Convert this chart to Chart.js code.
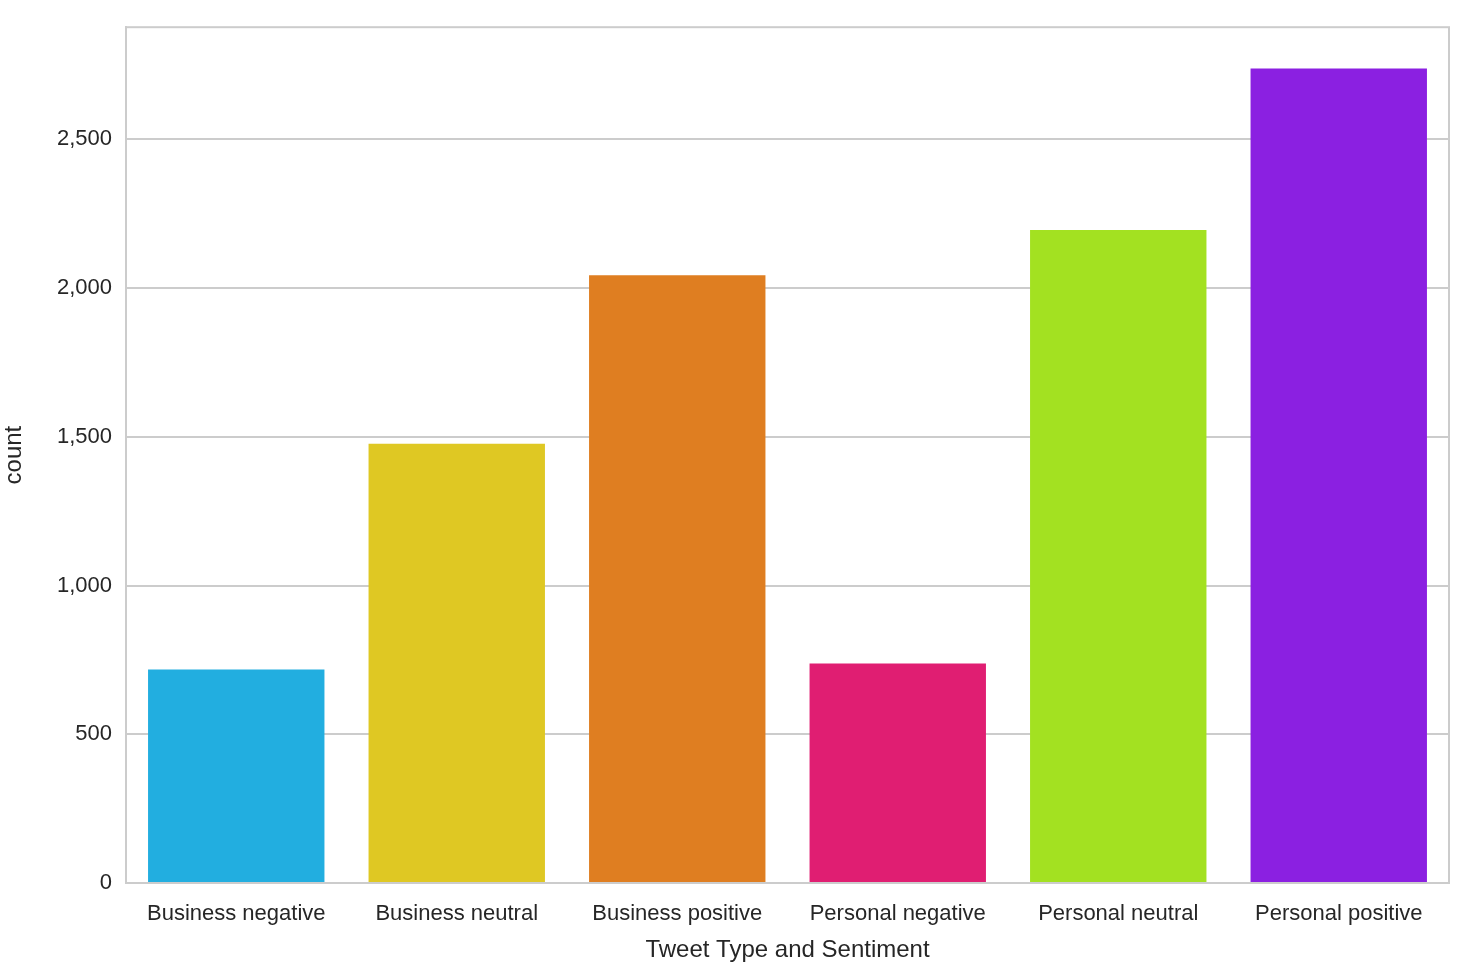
<!DOCTYPE html>
<html>
<head>
<meta charset="utf-8">
<script src="https://cdn.jsdelivr.net/npm/chart.js@4"></script>
<style>
  html, body { margin: 0; padding: 0; background: #fff; }
  #wrap { width: 1479px; height: 975px; }
</style>
</head>
<body>
<div id="wrap"><canvas id="myChart" width="1479" height="975"></canvas></div>
<script>
const categories = ["Business negative", "Business neutral", "Business positive",
  "Personal negative", "Personal neutral", "Personal positive"];
const counts = [718, 1477, 2043, 738, 2195, 2738];
const barColors = ['#22aee0', '#dfc823', '#df7e21', '#e01e72', '#a3e121', '#8b20e1'];
const yTicks = [0, 500, 1000, 1500, 2000, 2500];

// draw the top and right frame lines
const frame = {
  id: 'frame',
  afterDraw(chart) {
    const { ctx, chartArea: a } = chart;
    ctx.save();
    ctx.strokeStyle = '#cccccc';
    ctx.lineWidth = 2;
    ctx.strokeRect(a.left, a.top, a.right - a.left, a.bottom - a.top);
    ctx.restore();
  }
};

Chart.defaults.font.family = "'Liberation Sans', Arial, sans-serif";
Chart.defaults.color = '#262626';

new Chart(document.getElementById('myChart'), {
  type: 'bar',
  data: {
    labels: categories,
    datasets: [{ data: counts, backgroundColor: barColors, borderWidth: 0,
      barPercentage: 0.8, categoryPercentage: 1.0 }]
  },
  options: {
    responsive: false,
    animation: false,
    plugins: { legend: { display: false }, tooltip: { enabled: false } },
    layout: { padding: { left: 0, top: 14, right: 30, bottom: 10 } },
    scales: {
      x: {
        grid: { display: false },
        border: { color: '#cccccc', width: 2 },
        ticks: { font: { size: 22 }, maxRotation: 0, padding: 10 },
        title: { display: true, text: 'Tweet Type and Sentiment', font: { size: 24 }, padding: 0 },
        afterFit(s) { s.height = 82; }
      },
      y: {
        min: 0, max: 2877,
        afterBuildTicks(s) { s.ticks = yTicks.map(v => ({ value: v })); },
        grid: { color: '#cccccc', lineWidth: 2, drawTicks: false },
        border: { color: '#cccccc', width: 2 },
        ticks: { font: { size: 22 }, padding: 14 },
        title: { display: true, text: 'count', font: { size: 24 }, padding: 0 },
        afterFit(s) { s.width = 126; }
      }
    }
  },
  plugins: [frame]
});
</script>
</body>
</html>
